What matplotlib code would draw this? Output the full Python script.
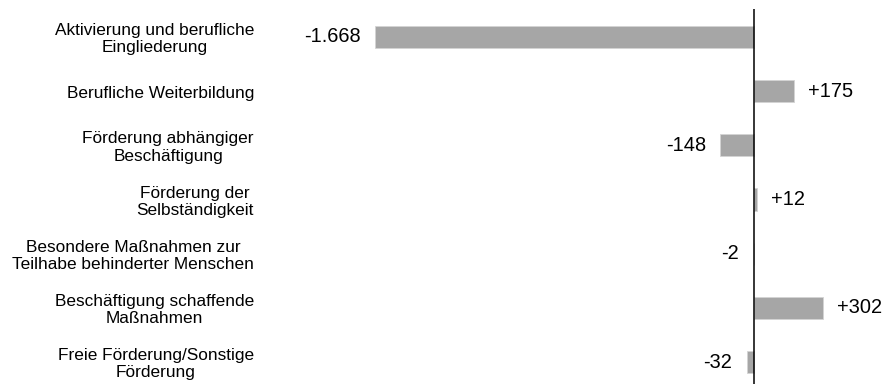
import matplotlib.pyplot as plt
import matplotlib.transforms as mtransforms

plt.rcParams['font.family'] = ['Liberation Sans', 'DejaVu Sans']

# data
categories = [
    "Aktivierung und berufliche\nEingliederung",
    "Berufliche Weiterbildung",
    "Förderung abhängiger\nBeschäftigung",
    "Förderung der\nSelbständigkeit",
    "Besondere Maßnahmen zur\nTeilhabe behinderter Menschen",
    "Beschäftigung schaffende\nMaßnahmen",
    "Freie Förderung/Sonstige\nFörderung",
]
values = [-1668, 175, -148, 12, -2, 302, -32]
value_labels = ["-1.668", "+175", "-148", "+12", "-2", "+302", "-32"]

W, H = 886, 384
fig = plt.figure(figsize=(W / 100, H / 100), dpi=100)

# pixel geometry
x0_px = 754
scale = 379 / 1668
ax_left, ax_right = 266, 886
ax_top, ax_bottom = 9, 384
row = 54.17

ax = fig.add_axes([ax_left / W, 0, (ax_right - ax_left) / W, (ax_bottom - ax_top) / H])
ax.set_xlim(-(x0_px - ax_left) / scale, (ax_right - x0_px) / scale)
ax.set_ylim(6 + (ax_bottom - 362) / row, -0.5 - (37 - row / 2 - ax_top) / row)

y = list(range(len(values)))
ax.barh(y, values, height=0.41, color='#a6a6a6', edgecolor='#d4d4d4', linewidth=0.6)
ax.axvline(0, color='black', lw=1.1)

for yi, v, lab in zip(y, values, value_labels):
    if v < 0:
        ax.annotate(lab, (v, yi), xytext=(-10.5, 0), textcoords='offset points',
                    ha='right', va='center', fontsize=14.4)
    else:
        ax.annotate(lab, (v, yi), xytext=(10.5, 0), textcoords='offset points',
                    ha='left', va='center', fontsize=14.4)

trans = mtransforms.blended_transform_factory(fig.transFigure, ax.transData)
for yi, cat in zip(y, categories):
    ax.text(254 / W, yi + 0.04, cat, transform=trans, ha='right', va='center',
            multialignment='center', fontsize=12.4, linespacing=1.18)

ax.axis('off')
fig.savefig('out.png', dpi=100)
